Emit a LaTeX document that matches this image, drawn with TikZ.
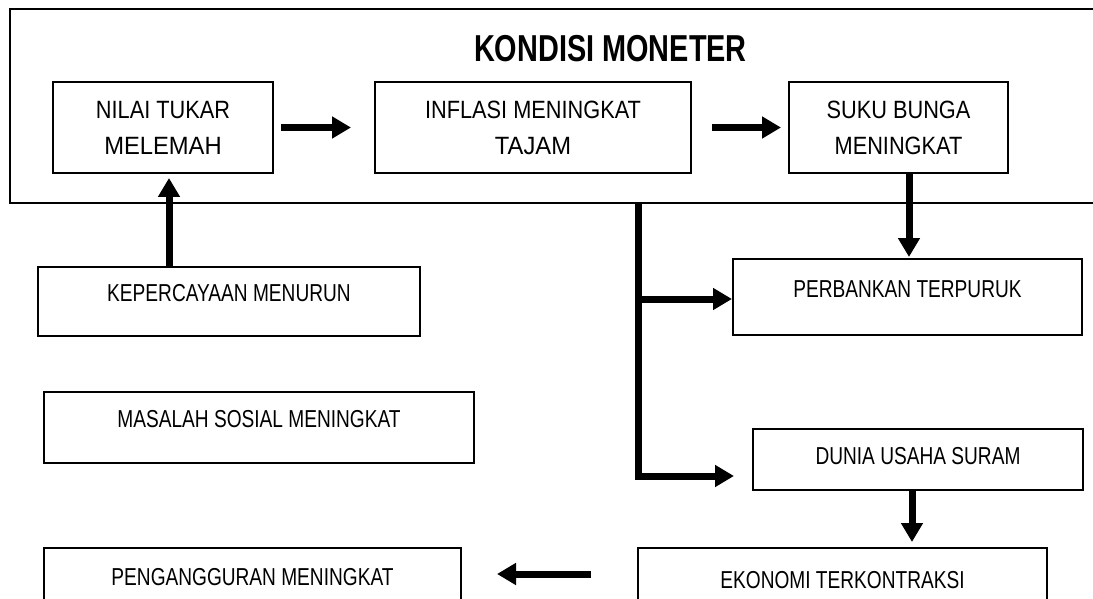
\documentclass[tikz,border=0pt]{standalone}
\usepackage{fontspec}
\setmainfont{Liberation Sans}
\newfontfamily\fupper[FakeStretch=0.87]{Liberation Sans}
\newfontfamily\fupwide[FakeStretch=0.95]{Liberation Sans}
\newfontfamily\flower[FakeStretch=0.78]{Liberation Sans}
\newfontfamily\ftitle[FakeStretch=0.77]{Liberation Sans Bold}
\usetikzlibrary{arrows.meta,calc}
\tikzset{
  box/.style={draw, line width=2pt, inner sep=0pt, anchor=north west},
  upbox/.style={box, align=center, font={\fupper\fontsize{25}{36}\selectfont}},
  lowbox/.style={box, font={\flower\fontsize{24.5}{29}\selectfont}, text height=18pt, text depth=18pt},
  arr/.style={line width=7pt, -{Triangle[width=21pt,length=19pt]}},
}
\begin{document}
\begin{tikzpicture}[x=1pt,y=-1pt]
\path[use as bounding box] (0,0) rectangle (1093,599);
\clip (0,0) rectangle (1093,599);
% outer frame
\node[draw, line width=2.2pt, inner sep=0pt, anchor=north west, minimum width=1110pt, minimum height=194pt] (frame) at (9,8) {};
\node[anchor=base, inner sep=0pt, font={\ftitle\fontsize{37.5}{40}\selectfont}] (title) at (610.5,62) {KONDISI MONETER};
% boxes
\node[upbox, minimum width=220pt, minimum height=91pt] (nilai) at (52,81) {NILAI TUKAR\\{\fupwide MELEMAH}};
\node[upbox, minimum width=316pt, minimum height=91pt] (inflasi) at (374,81) {INFLASI MENINGKAT\\{\fupwide TAJAM}};
\node[upbox, minimum width=219pt, minimum height=91pt] (suku) at (788,81) {SUKU BUNGA\\MENINGKAT};
\node[lowbox, minimum width=382pt, minimum height=69pt] (kep) at (37,266) {KEPERCAYAAN MENURUN};
\node[lowbox, minimum width=430pt, minimum height=71pt] (masalah) at (43,391) {MASALAH SOSIAL MENINGKAT};
\node[lowbox, minimum width=417pt, minimum height=74pt] (peng) at (43,547) {PENGANGGURAN MENINGKAT};
\node[lowbox, minimum width=349pt, minimum height=76pt] (perb) at (732,258) {PERBANKAN TERPURUK};
\node[lowbox, minimum width=330pt, minimum height=61pt, text height=22.5pt, text depth=13.5pt] (dunia) at (752,428) {DUNIA USAHA SURAM};
\node[lowbox, minimum width=409pt, minimum height=80pt] (eko) at (637,547) {EKONOMI TERKONTRAKSI};
% connectors
\draw[arr, shorten <=7pt, shorten >=23pt] (nilai.east) -- (inflasi.west);
\draw[arr, shorten <=20pt, shorten >=7pt] (inflasi.east) -- (suku.west);
\draw[arr, shorten >=1pt] ([xshift=10.5pt]suku.south) -- ([xshift=10.5pt]suku.south |- perb.north);
\draw[arr, shorten >=4pt] ([xshift=6pt]nilai.south |- kep.north) -- ([xshift=6pt]nilai.south);
\coordinate (drop) at (638,202);
\draw[arr, shorten >=18pt] (drop) |- ([yshift=-16.5pt]dunia.west);
\draw[arr] ([yshift=-2pt]perb.west -| drop) -- ([yshift=-2pt]perb.west);
\draw[arr, shorten >=5pt] ([xshift=-6pt]dunia.south) -- ([xshift=-6pt]dunia.south |- eko.north);
\draw[arr, shorten <=46pt, shorten >=35pt] ([yshift=14pt]eko.west) -- ([yshift=14pt]eko.west -| peng.east);
\end{tikzpicture}
\end{document}
